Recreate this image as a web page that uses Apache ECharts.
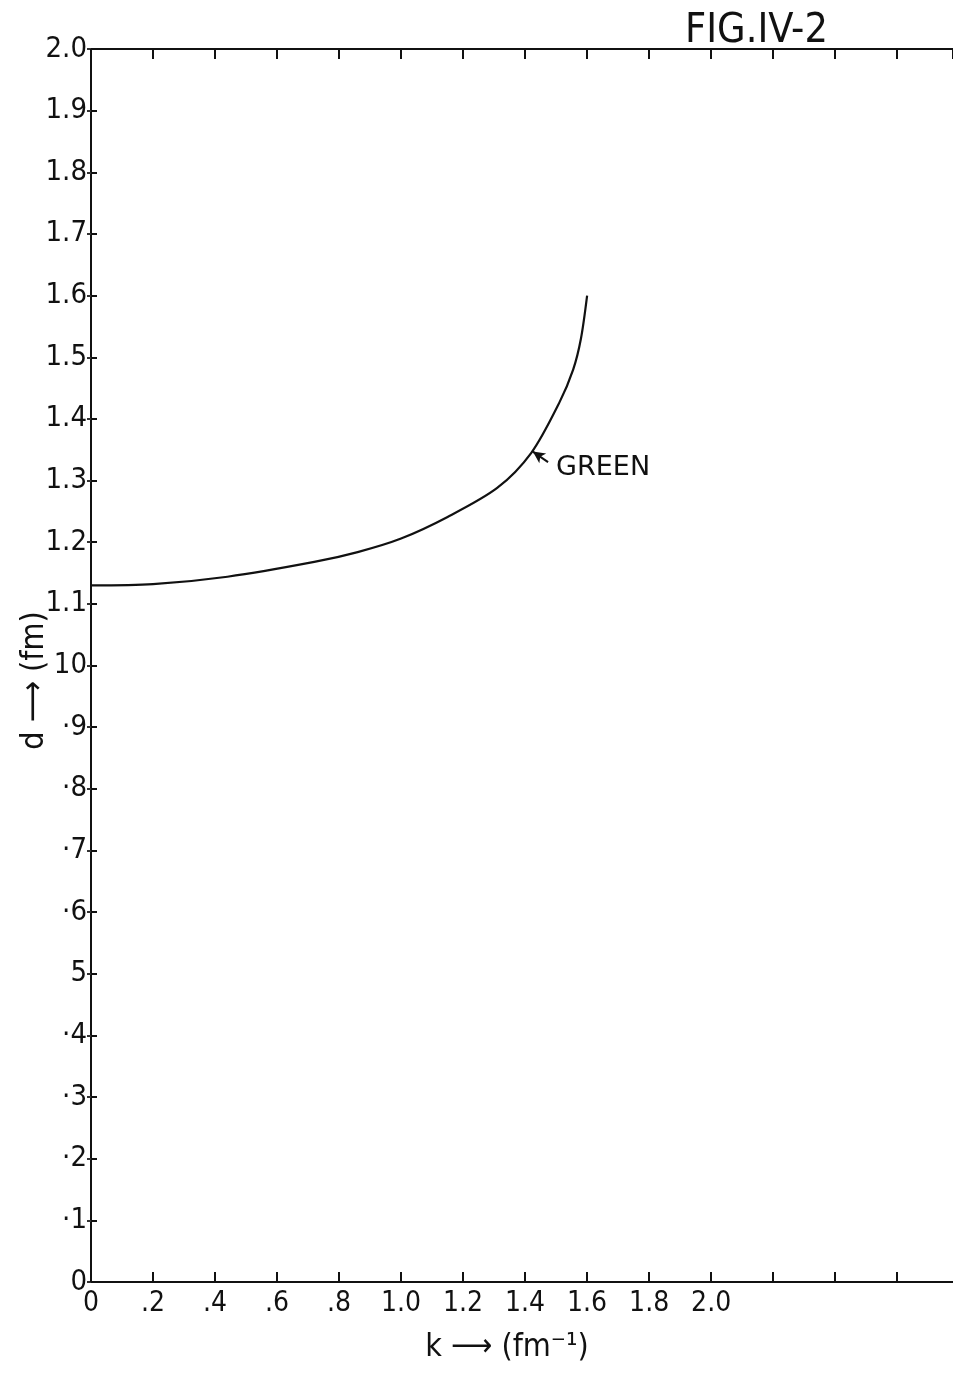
<!DOCTYPE html>
<html>
<head>
<meta charset="utf-8">
<script src="https://cdn.jsdelivr.net/npm/echarts@6/dist/echarts.min.js"></script>
<style>
html,body{margin:0;padding:0;background:#fff;}
#chart{width:953px;height:1374px;}
</style>
</head>
<body>
<div id="chart"></div>
<script>
// Curve data: k (fm^-1) vs d (fm)
const kValues = [0, 0.2, 0.44, 0.72, 0.86, 1.0, 1.15, 1.31, 1.42, 1.51, 1.555, 1.58, 1.60];
const dValues = [1.130, 1.132, 1.144, 1.168, 1.184, 1.206, 1.241, 1.288, 1.345, 1.426, 1.48, 1.53, 1.60];
// Tick labels as written on the figure
const xTickLabels = {"0":"0","0.2":".2","0.4":".4","0.6":".6","0.8":".8","1":"1.0","1.2":"1.2","1.4":"1.4","1.6":"1.6","1.8":"1.8","2":"2.0"};
const yTickLabels = ["0","·1","·2","·3","·4","5","·6","·7","·8","·9","10","1.1","1.2","1.3","1.4","1.5","1.6","1.7","1.8","1.9","2.0"];
const curveName = "GREEN";
const arrowTip = [1.425, 1.347];
const arrowTail = [1.474, 1.330];
const labelAnchor = [1.50, 1.320];

const FONT = "'Liberation Sans Narrow','DejaVu Sans Condensed',sans-serif";
const chart = echarts.init(document.getElementById('chart'), null, {renderer:'canvas'});
const pairs = kValues.map((k,i)=>[k,dValues[i]]);

chart.setOption({
  backgroundColor:'#fff',
  animation:false,
  title:{text:'FIG.IV-2', left:680, top:6,
    textStyle:{fontFamily:FONT, fontSize:41, fontWeight:'normal', color:'#111'}},
  grid:{left:91, right:0, top:49, bottom:92, containLabel:false, outerBoundsMode:'none'},
  xAxis:[{
    type:'value', min:0, max:2.78, interval:0.2, position:'bottom',
    name:'k \u27F6 (fm\u207B\u00B9)', nameLocation:'middle', nameGap:50, nameMoveOverlap:false,
    nameTextStyle:{fontFamily:FONT, fontSize:32, color:'#111', padding:[0,30,0,0]},
    axisLine:{show:true, onZero:false, lineStyle:{color:'#111', width:2}},
    axisTick:{show:true, inside:true, length:10, lineStyle:{color:'#111', width:2}},
    axisLabel:{show:true, margin:8, fontFamily:FONT, fontSize:28, color:'#111', showMaxLabel:false,
      formatter:(v)=>{const key=String(Math.round(v*10)/10); return xTickLabels[key]!==undefined?xTickLabels[key]:'';}},
    splitLine:{show:false}
  },{
    type:'value', min:0, max:2.78, interval:0.2, position:'top',
    axisLine:{show:true, onZero:false, lineStyle:{color:'#111', width:2}},
    axisTick:{show:true, inside:true, length:10, lineStyle:{color:'#111', width:2}},
    axisLabel:{show:false}, splitLine:{show:false}
  }],
  yAxis:[{
    type:'value', min:0, max:2.0, interval:0.1, position:'left',
    name:'d \u27F6 (fm)', nameLocation:'middle', nameGap:40, nameRotate:90, nameMoveOverlap:false,
    nameTextStyle:{fontFamily:FONT, fontSize:32, color:'#111', padding:[0,0,0,-30]},
    axisLine:{show:true, onZero:false, lineStyle:{color:'#111', width:2}},
    axisTick:{show:true, inside:true, length:6, lineStyle:{color:'#111', width:2}},
    axisLabel:{show:true, margin:4, fontFamily:FONT, fontSize:29, color:'#111',
      formatter:(v)=>yTickLabels[Math.round(v*10)]},
    splitLine:{show:false}
  },{
    type:'value', min:0, max:2.0, interval:0.1, position:'right',
    axisLine:{show:false},
    axisTick:{show:true, inside:true, length:4, lineStyle:{color:'#333', width:2}},
    axisLabel:{show:false}, splitLine:{show:false}
  }],
  series:[{
    name:curveName, type:'line', data:pairs, smooth:0.3, showSymbol:false,
    xAxisIndex:0, yAxisIndex:0,
    lineStyle:{color:'#111', width:2.2},
    markLine:{
      silent:true, symbol:['arrow','none'], symbolSize:[9,12],
      lineStyle:{color:'#111', width:2, type:'solid'},
      label:{show:false},
      data:[[{coord:arrowTip},{coord:arrowTail}]]
    },
    markPoint:{
      silent:true, symbol:'circle', symbolSize:0,
      label:{show:true, position:'right', distance:0, formatter:curveName,
        fontFamily:"'DejaVu Sans',sans-serif", fontSize:27, color:'#111'},
      data:[{coord:labelAnchor}]
    }
  }]
});
</script>
</body>
</html>
